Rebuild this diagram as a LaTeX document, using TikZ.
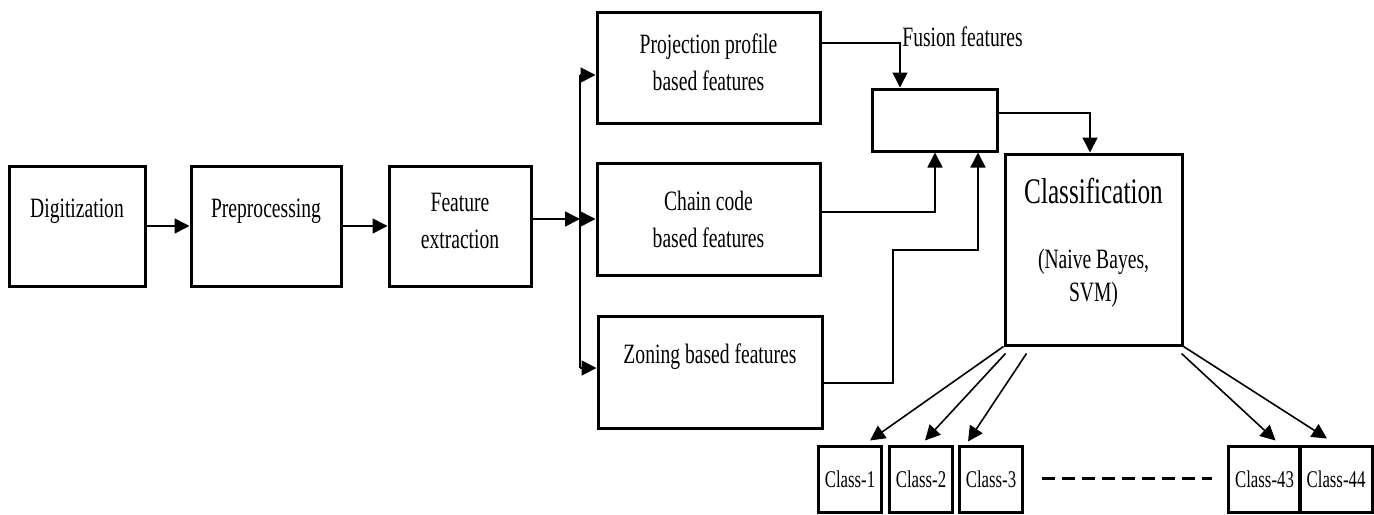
\documentclass[tikz,border=0pt]{standalone}
\usepackage{fontspec}
\setmainfont{Liberation Serif}[FakeStretch=0.7]
\usetikzlibrary{arrows.meta,calc}

\begin{document}
\begin{tikzpicture}[x=0.5pt,y=-0.5pt,font=\fontsize{14}{18.5}\selectfont,
  blk/.style={draw,line width=1.5pt,minimum width=#1},
  classbox/.style={draw,line width=1.5pt,minimum width=31.5pt,minimum height=33pt,font=\fontsize{12}{13}\selectfont},
  arr/.style={-{Triangle[length=7.5pt,width=7.5pt]},line width=0.8pt}]
  \useasboundingbox (0,0) rectangle (1374,514);
  \node[blk=68pt,minimum height=60pt,label={[yshift=7.5pt]center:Digitization}] (dig) at (77,226) {};
  \node[blk=75pt,minimum height=60pt,label={[yshift=7.5pt]center:Preprocessing}] (pre) at (266,226) {};
  \node[blk=71pt,minimum height=60pt,label={[yshift=2.5pt,align=center]center:Feature\\extraction}] (fe) at (460,226) {};
  \node[blk=111.5pt,minimum height=55.5pt,label={[yshift=2.75pt,align=center]center:Projection profile\\based features}] (proj) at (708.5,67.5) {};
  \node[blk=111.5pt,minimum height=56pt,align=center] (chain) at (708.5,219) {Chain code\\based features};
  \node[blk=112pt,minimum height=56pt,label={[yshift=7.5pt]center:Zoning based features}] (zon) at (710,372) {};
  \node[blk=62.5pt,minimum height=31pt] (fus) at (934.5,120) {};
  \node[anchor=west,inner sep=0pt] (fuslbl) at (902,37) {Fusion features};
  \node[blk=88.5pt,minimum height=95.5pt,
    label={[yshift=29.5pt,font=\fontsize{18}{22}\selectfont]center:Classification},
    label={[yshift=-14.5pt,align=center,font=\fontsize{14}{16.5}\selectfont]center:(Naive Bayes,\\SVM)}] (clf) at (1093.5,249.5) {};
  \foreach \n/\x/\t in {c1/850/Class-1,c2/921/Class-2,c3/991/Class-3,c43/1264.5/Class-43,c44/1336/Class-44}
    \node[classbox] (\n) at (\x,479) {\t};

  \draw[arr] (dig) -- (pre);
  \draw[arr] (pre) -- (fe);
  \coordinate (sp) at (580,219);
  \coordinate (sptop) at (580,75);
  \coordinate (spbot) at (580,368);
  \draw[arr] (fe.east |- sp) -- (sp);
  \draw[line width=0.8pt] (sptop) -- (spbot);
  \draw[arr] (sptop) -- (proj.west |- sptop);
  \draw[arr] (sp) -- (chain.west |- sp);
  \draw[arr] (spbot) -- (zon.west |- spbot);
  \coordinate (f1) at (900,43);
  \coordinate (f2) at (935,212);
  \coordinate (f3) at (893,383);
  \coordinate (f4) at (978,250);
  \coordinate (f5) at (1090,113);
  \draw[arr] (proj.east |- f1) -- (f1) -- (f1 |- fus.north);
  \draw[arr] (chain.east |- f2) -- (f2) -- (f2 |- fus.south);
  \draw[arr] (zon.east |- f3) -- (f3) |- (f4) -- (f4 |- fus.south);
  \draw[arr] (fus.east |- f5) -- (f5) -- (f5 |- clf.north);
  \foreach \a/\ax/\ay/\n/\dx/\dy in {south west/0/0/c1/20/-4,south west/2/7/c2/4/-4,south west/23/7/c3/-23/-3,south east/-2/7/c43/11/-4,south east/0/0/c44/-9/-6}
    \draw[arr] ($(clf.\a)+(\ax,\ay)$) -- ($(\n.north)+(\dx,\dy)$);
  \draw[line width=1.5pt,dash pattern=on 6.5pt off 3.5pt] ($(c3.east)+(18,-1)$) -- ($(c43.west)+(-15,-1)$);
\end{tikzpicture}
\end{document}
